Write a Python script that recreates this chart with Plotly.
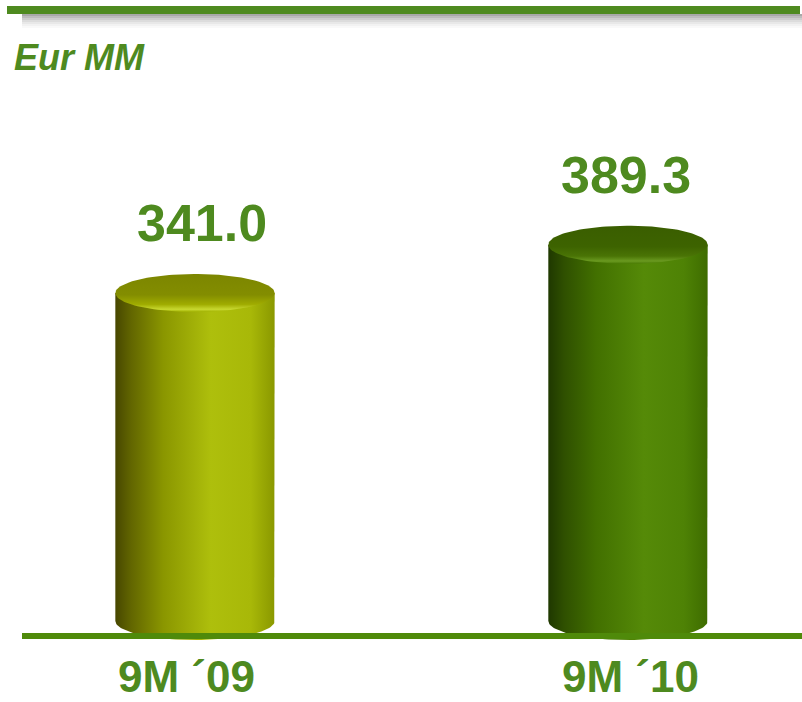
import numpy as np
import plotly.graph_objects as go

# chart data
categories = ["9M ´09", "9M ´10"]
values = [341.0, 389.3]
value_labels = ["341.0", "389.3"]

GREEN = "#4e8a1f"
FONT = "Liberation Sans, Arial, sans-serif"

# cylinder colours (body goes left -> right, top goes front -> back)
body_scales = [
    [[0, "#474700"], [0.1, "#626600"], [0.3, "#8a9600"], [0.6, "#aebf0c"],
     [0.85, "#a8b808"], [1, "#8a9800"]],
    [[0, "#1f3800"], [0.1, "#2f5000"], [0.3, "#427000"], [0.6, "#558a08"],
     [0.85, "#4e8205"], [1, "#3e6c00"]],
]
top_scales = [
    [[0, "#9fb000"], [0.07, "#c8d830"], [0.2, "#a0ac00"], [0.45, "#838d00"],
     [1, "#7c8600"]],
    [[0, "#4a7a05"], [0.07, "#6a9a20"], [0.2, "#4a7405"], [0.45, "#3d6300"],
     [1, "#3a5e00"]],
]
# small nudges of the texts, in pixels
value_shift = [7, -2]
cat_shift = [-9, 2]

half_w = 0.184   # half width of a cylinder, in x units
rim = 19         # vertical radius of the ellipses, in y units
foot = 13        # centre of the bottom ellipse


def ellipse(cx, cy, t):
    return cx + half_w * np.cos(t), cy + rim * np.sin(t)


fig = go.Figure()

for i in range(len(values)):
    v = values[i]
    # body: top-right -> down the side -> round bottom -> up the left side
    bx, by = ellipse(i, foot, np.linspace(0, -np.pi, 60))
    xs = np.concatenate([[i + half_w], bx, [i - half_w]])
    ys = np.concatenate([[v], by, [v]])
    fig.add_trace(go.Scatter(
        x=xs, y=ys, fill="toself", mode="lines", line=dict(width=0),
        fillgradient=dict(type="horizontal", colorscale=body_scales[i],
                          start=i - half_w, stop=i + half_w),
        hoverinfo="skip", showlegend=False))

    # top face
    tx, ty = ellipse(i, v, np.linspace(0, 2 * np.pi, 120))
    fig.add_trace(go.Scatter(
        x=tx, y=ty, fill="toself", mode="lines", line=dict(width=0),
        fillgradient=dict(type="vertical", colorscale=top_scales[i],
                          start=v - rim, stop=v + rim),
        hoverinfo="skip", showlegend=False))

    fig.add_annotation(x=i, y=v + 70, text=value_labels[i], showarrow=False,
                       xanchor="center", yanchor="middle", xshift=value_shift[i],
                       font=dict(family=FONT, size=52, color=GREEN, weight="bold"))
    fig.add_annotation(x=i, y=-42, text=categories[i], showarrow=False,
                       xanchor="center", yanchor="middle", xshift=cat_shift[i],
                       font=dict(family=FONT, size=44, color=GREEN, weight="bold"))

# top rule with its soft shadow
shadow = ["#a8a8a8", "#bcbcbc", "#cdcdcd", "#dcdcdc", "#e8e8e8", "#f2f2f2", "#f9f9f9"]
for k in range(len(shadow)):
    fig.add_shape(type="rect", xref="paper", yref="paper",
                  x0=22 / 802, x1=1, y0=1 - (16 + 2 * k) / 702, y1=1 - (14 + 2 * k) / 702,
                  fillcolor=shadow[k], line_width=0, layer="below")
fig.add_shape(type="rect", xref="paper", yref="paper",
              x0=7 / 802, x1=800 / 802, y0=1 - 14 / 702, y1=1 - 6 / 702,
              fillcolor=GREEN, line_width=0)

# base line
fig.add_shape(type="rect", xref="paper", yref="y",
              x0=22 / 802, x1=1, y0=-5, y1=1,
              fillcolor="#4f8a0a", line_width=0)

fig.add_annotation(xref="paper", yref="paper", x=12 / 802, y=1 - 57 / 702,
                   text="Eur MM", showarrow=False, xanchor="left", yanchor="middle",
                   font=dict(family=FONT, size=36, color=GREEN, weight="bold",
                             style="italic"))

fig.update_layout(
    width=802, height=702,
    margin=dict(l=0, r=0, t=0, b=0),
    paper_bgcolor="white", plot_bgcolor="white",
    xaxis=dict(range=[-195 / 433, 607 / 433], visible=False, fixedrange=True),
    yaxis=dict(range=[-68, 634], visible=False, fixedrange=True),
)

# the page's default body margin would push the figure 8px in
fig.write_html("out.html", config={"displayModeBar": False},
               post_script="document.body.style.margin = '0';")
